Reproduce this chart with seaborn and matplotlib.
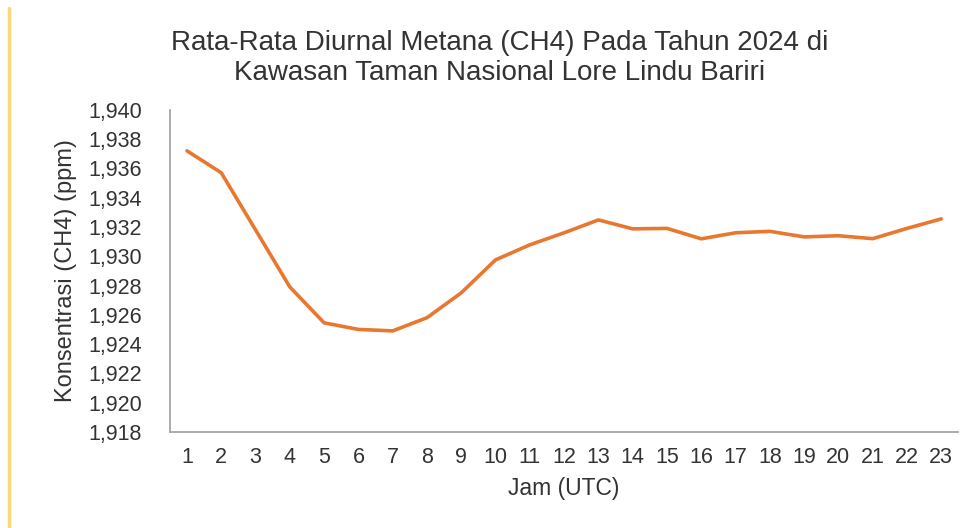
import matplotlib
matplotlib.use("Agg")
import matplotlib.pyplot as plt
import matplotlib.ticker as mticker
from matplotlib.lines import Line2D
import numpy as np
import pandas as pd
import seaborn as sns

# data
jam = list(range(1, 24))
ch4 = [1.9372, 1.9357, 1.9318, 1.9279, 1.92545, 1.9250, 1.9249, 1.9258,
       1.9275, 1.92975, 1.93078, 1.9316, 1.93248, 1.93187, 1.9319, 1.93119,
       1.9316, 1.9317, 1.93132, 1.9314, 1.9312, 1.9319, 1.93255]
y_ticks = [1.918, 1.920, 1.922, 1.924, 1.926, 1.928, 1.930, 1.932,
           1.934, 1.936, 1.938, 1.940]

title = "Rata-Rata Diurnal Metana (CH4) Pada Tahun 2024 di\nKawasan Taman Nasional Lore Lindu Bariri"

df = pd.DataFrame({"jam": jam, "ch4": ch4})

sns.set_theme(style="white")
plt.rcParams['font.family'] = ['Liberation Sans', 'DejaVu Sans']
txt = '#333333'

fig = plt.figure(figsize=(9.76, 5.28), dpi=100)
ax = fig.add_axes([0.174, 0.182, 0.808, 0.610])

sns.lineplot(data=df, x="jam", y="ch4", ax=ax, color="#E8782F",
             linewidth=2.6, solid_capstyle="round", solid_joinstyle="round")

ax.set_xlim(0.5, 23.5)
ax.set_ylim(1.918, 1.940)
ax.set_xticks(jam)
ax.set_yticks(y_ticks)
ax.yaxis.set_major_formatter(mticker.FuncFormatter(
    lambda v, p: f"{v:.3f}".replace(".", ",")))
ax.tick_params(axis='both', length=0, labelsize=15.5, colors=txt)
ax.tick_params(axis='x', pad=11)
ax.tick_params(axis='y', pad=20)

for s in ['top', 'right']:
    ax.spines[s].set_visible(False)
for s in ['left', 'bottom']:
    ax.spines[s].set_color('#a6a6a6')
    ax.spines[s].set_linewidth(1.3)

ax.set_xlabel("Jam (UTC)", fontsize=16.5, color=txt, labelpad=6)
ax.set_ylabel("Konsentrasi (CH4) (ppm)", fontsize=17, color=txt, labelpad=8)

fig.text(0.512, 0.890, title, ha='center', va='center', fontsize=20,
         color=txt, linespacing=1.17)

# yellow strip at the left edge of the source image
fig.add_artist(Line2D([0.0095, 0.0095], [0.0, 0.985], color='#f6d97a',
                      linewidth=2.5, transform=fig.transFigure))

fig.savefig("out.png", dpi=100, facecolor='white')
